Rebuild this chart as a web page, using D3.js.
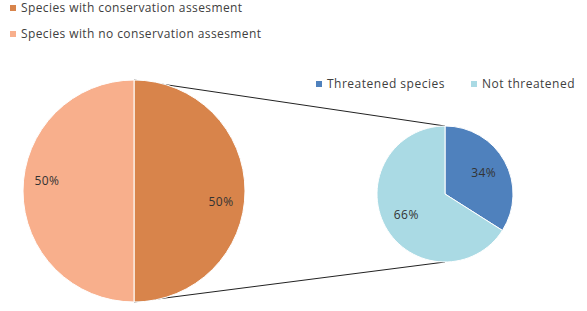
<!DOCTYPE html>
<html>
<head>
<meta charset="utf-8" />
<script src="https://d3js.org/d3.v7.min.js"></script>
<style>
  body { margin: 0; background: #fff; }
  svg text { font-family: "Open Sans", sans-serif; fill: #404040; }
</style>
</head>
<body>
<div id="visu"></div>
<script>
// data
const mainCategories = ["Species with conservation assesment", "Species with no conservation assesment"];
const mainValues = [50, 50];
const mainColors = ["#D8844B", "#F8AF8C"];

const subCategories = ["Threatened species", "Not threatened"];
const subValues = [34, 66];
const subColors = ["#4F81BD", "#AADAE4"];

const width = 587, height = 311;

const svg = d3.select("#visu").append("svg")
  .attr("width", width)
  .attr("height", height);

// big pie
const big = { cx: 134, cy: 191, r: 111 };
// small pie
const small = { cx: 445, cy: 194, r: 68 };

const pie = d3.pie().sort(null).value(d => d);

// lignes de liaison
svg.append("line")
  .attr("x1", big.cx).attr("y1", big.cy - big.r)
  .attr("x2", small.cx).attr("y2", small.cy - small.r)
  .attr("stroke", "#222").attr("stroke-width", 1);
svg.append("line")
  .attr("x1", big.cx).attr("y1", big.cy + big.r)
  .attr("x2", small.cx).attr("y2", small.cy + small.r)
  .attr("stroke", "#222").attr("stroke-width", 1);

function drawPie(values, colors, c, labelK, labelShift) {
  const arc = d3.arc().innerRadius(0).outerRadius(c.r);
  const g = svg.append("g").attr("transform", `translate(${c.cx},${c.cy})`);
  const arcs = pie(values);
  const total = d3.sum(values);
  g.selectAll("path")
    .data(arcs)
    .enter().append("path")
    .attr("d", arc)
    .attr("fill", (d, i) => colors[i])
    .attr("stroke", "#fff")
    .attr("stroke-width", 1);
  g.selectAll("text")
    .data(arcs)
    .enter().append("text")
    .attr("x", d => Math.sin((d.startAngle + d.endAngle) / 2 + labelShift) * c.r * labelK)
    .attr("y", d => -Math.cos((d.startAngle + d.endAngle) / 2 + labelShift) * c.r * labelK)
    .attr("text-anchor", "middle")
    .attr("dy", "0.35em")
    .style("font-size", "12px")
    .style("letter-spacing", "0.5px")
    .style("fill", "#333")
    .text(d => Math.round(d.value / total * 100) + "%");
}

drawPie(mainValues, mainColors, big, 0.79, 7 * Math.PI / 180);
drawPie(subValues, subColors, small, 0.65, 0);

// légende principale
const leg1 = svg.selectAll(".leg1")
  .data(mainCategories)
  .enter().append("g")
  .attr("transform", (d, i) => `translate(10, ${5 + i * 26})`);
leg1.append("rect")
  .attr("width", 6).attr("height", 6)
  .attr("fill", (d, i) => mainColors[i]);
leg1.append("text")
  .attr("x", 11).attr("y", 3)
  .attr("dy", "0.35em")
  .style("font-size", "12px")
  .style("letter-spacing", "0.4px")
  .text(d => d);

// légende secondaire
const leg2X = [316, 471];
const leg2 = svg.selectAll(".leg2")
  .data(subCategories)
  .enter().append("g")
  .attr("transform", (d, i) => `translate(${leg2X[i]}, 81)`);
leg2.append("rect")
  .attr("width", 6).attr("height", 6)
  .attr("fill", (d, i) => subColors[i]);
leg2.append("text")
  .attr("x", 11).attr("y", 3)
  .attr("dy", "0.35em")
  .style("font-size", "12px")
  .style("letter-spacing", "0.5px")
  .text(d => d);
</script>
</body>
</html>
